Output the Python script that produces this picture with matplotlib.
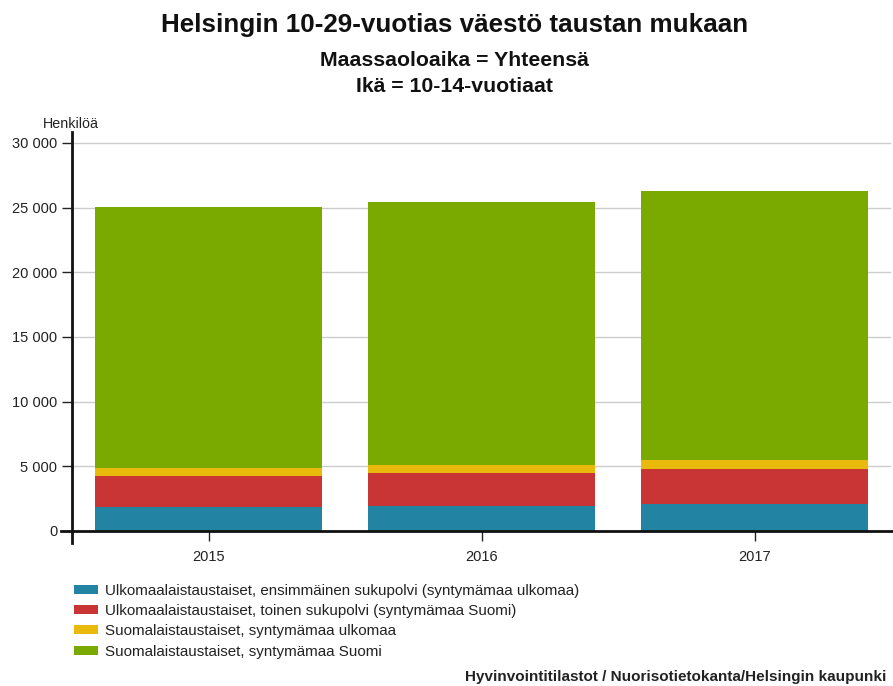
import matplotlib
matplotlib.use("Agg")
import matplotlib.pyplot as plt
from matplotlib.ticker import FuncFormatter
import numpy as np

plt.rcParams['font.family'] = ['Liberation Sans', 'DejaVu Sans']

years = ['2015', '2016', '2017']
series_names = [
    'Ulkomaalaistaustaiset, ensimmäinen sukupolvi (syntymämaa ulkomaa)',
    'Ulkomaalaistaustaiset, toinen sukupolvi (syntymämaa Suomi)',
    'Suomalaistaustaiset, syntymämaa ulkomaa',
    'Suomalaistaustaiset, syntymämaa Suomi',
]
first_gen = [1830, 1920, 2070]
second_gen = [2430, 2570, 2710]
finnish_abroad = [600, 620, 680]
finnish_home = [20190, 20290, 20800]
colors = ['#2383a3', '#c93434', '#e9b90c', '#7aaa00']

fig = plt.figure(figsize=(8.93, 6.86), dpi=100)
ax = fig.add_axes([72 / 893, 1 - 531 / 686, (891 - 72) / 893, (531 - 132) / 686])

x = np.arange(len(years))
bottom = np.zeros(len(years))
handles = []
for name, vals, col in zip(series_names, [first_gen, second_gen, finnish_abroad, finnish_home], colors):
    b = ax.bar(x, vals, width=0.83, bottom=bottom, color=col, label=name, zorder=2)
    handles.append(b)
    bottom += np.array(vals)

ax.set_xlim(-0.5, 2.5)
ax.set_ylim(0, 30850)
ax.set_yticks(range(0, 30001, 5000))
ax.yaxis.set_major_formatter(FuncFormatter(lambda v, p: f'{int(v):,}'.replace(',', ' ')))
ax.set_xticks(x)
ax.set_xticklabels(years)
ax.grid(axis='y', color='#cccccc', linewidth=1, zorder=0)
for s in ax.spines.values():
    s.set_visible(False)
ax.tick_params(axis='both', length=7.5, width=1, color='#222222', labelsize=10.5, labelcolor='#222222', pad=3)
ax.tick_params(axis='x', pad=6)

# axis lines that run a little past the plot corner
ax.plot([0, 0], [-0.03, 1], transform=ax.transAxes, color='#111111', lw=2, clip_on=False, zorder=5)
ax.plot([-0.013, 1.003], [0, 0], transform=ax.transAxes, color='#111111', lw=2, clip_on=False, zorder=5)

fig.text(43 / 893, 1 - 124 / 686, 'Henkilöä', fontsize=10.3, color='#222222', va='center')

fig.text(455 / 893, 1 - 25 / 686, 'Helsingin 10-29-vuotias väestö taustan mukaan',
         fontsize=18.7, fontweight='bold', ha='center', va='center', color='#111111')
fig.text(454 / 893, 1 - 61 / 686, 'Maassaoloaika = Yhteensä',
         fontsize=15.3, fontweight='bold', ha='center', va='center', color='#111111')
fig.text(454 / 893, 1 - 87 / 686, 'Ikä = 10-14-vuotiaat',
         fontsize=15.3, fontweight='bold', ha='center', va='center', color='#111111')

fig.legend(handles=handles, loc='upper left', bbox_to_anchor=(66 / 893, 1 - 576 / 686),
           frameon=False, fontsize=10.9, handlelength=1.6, handleheight=0.55,
           handletextpad=0.5, labelspacing=0.42, borderpad=0, labelcolor='#222222')

fig.text(886 / 893, 1 - 677 / 686, 'Hyvinvointitilastot / Nuorisotietokanta/Helsingin kaupunki',
         fontsize=11, fontweight='bold', ha='right', va='center', color='#222222')

fig.savefig('out.png', dpi=100)
